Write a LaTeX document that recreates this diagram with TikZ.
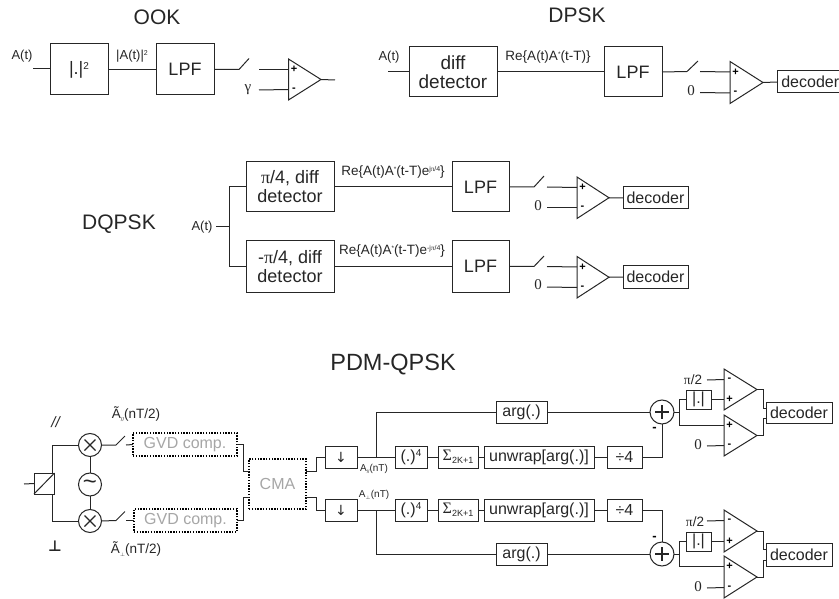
\documentclass[tikz,border=0pt]{standalone}
\usepackage{fontspec}
\setmainfont{Liberation Sans}
\newfontfamily\sy{Liberation Serif}
\newfontfamily\djv{DejaVu Sans}
\usetikzlibrary{calc}
\newcommand{\bbox}[6]{%
  \pgfmathsetmacro\bw{#4-#2}\pgfmathsetmacro\bh{#5-#3}%
  \pgfmathsetmacro\bx{(#4+#2)/2}\pgfmathsetmacro\by{(#5+#3)/2}%
  \node[blockbox,minimum width=\bw pt,minimum height=\bh pt] (#1) at (\bx,\by) {#6};}
\newcommand{\dbox}[6]{%
  \pgfmathsetmacro\bw{#4-#2}\pgfmathsetmacro\bh{#5-#3}%
  \pgfmathsetmacro\bx{(#4+#2)/2}\pgfmathsetmacro\by{(#5+#3)/2}%
  \node[dotbox,minimum width=\bw pt,minimum height=\bh pt] (#1) at (\bx,\by) {#6};}
% name, left x, top y, bottom y, tip x, upper sign, lower sign
\newcommand{\amp}[7]{%
  \pgfmathsetmacro\my{(#3+#4)/2}%
  \coordinate (#1-a) at (#2,#3);\coordinate (#1-b) at (#2,#4);\coordinate (#1-o) at (#5,\my);
  \draw[wire] (#1-a) -- (#1-o) -- (#1-b) -- cycle;
  \pgfmathsetmacro\uy{#3+10.5}\pgfmathsetmacro\ly{#4-10.5}%
  \coordinate (#1-u) at (#2,\uy);\coordinate (#1-l) at (#2,\ly);
  \node[sign] (#1-us) at ($(#1-u)+(5.5,0)$) {#6};
  \node[sign] (#1-ls) at ($(#1-l)+(5.5,0)$) {#7};}
\newcommand{\bigA}{\fontsize{19}{23}\selectfont}
\newcommand{\bigB}{\fontsize{18}{23}\selectfont}
\tikzset{
  wire/.style={line width=1pt,draw=black!85,line join=miter},
  blockbox/.style={draw=black!85,line width=1pt,inner sep=0pt,outer sep=0pt,font=\fontsize{16}{19}\selectfont,align=center,text=black!85},
  dotbox/.style={draw=black,line width=1.4pt,dash pattern=on 1.4pt off 1.4pt,inner sep=0pt,outer sep=0pt,font=\fontsize{16}{19}\selectfont,text=black!35},
  title/.style={font=\fontsize{21}{24}\selectfont,inner sep=0pt,text=black!85},
  lab/.style={font=\fontsize{13.5}{15}\selectfont,inner sep=0pt,text=black!85},
  num/.style={font=\sy\fontsize{15}{18}\selectfont,inner sep=0pt,text=black!85},
  sign/.style={font=\bfseries\fontsize{11}{11}\selectfont,inner sep=0pt,text=black},
  roundel/.style={circle,draw=black!85,line width=1pt,inner sep=0pt,outer sep=0pt,minimum size=23pt},
  mark stroke/.style={line width=1.2pt,draw=black!85},
}
\begin{document}
\begin{tikzpicture}[x=1pt,y=-1pt]
\useasboundingbox (0,0) rectangle (839,599);
%% OOK
\node[title] (tOOK) at (157,17) {OOK};
\node[lab,font=\fontsize{13}{15}\selectfont] (lA1) at (22,56) {A(t)};
\coordinate (in1) at (33,69);
\bbox{sq}{50}{44}{108}{95}{\fontsize{18}{20}\selectfont|.|\raisebox{5pt}{\fontsize{10}{10}\selectfont 2}}
\bbox{lpf1}{156}{44}{214}{95}{\fontsize{18}{20}\selectfont LPF}
\node[lab,font=\fontsize{13}{15}\selectfont] (lq) at (132,56) {|A(t)|\raisebox{4pt}{\fontsize{7}{7}\selectfont 2}};
\draw[wire] (in1) -- (sq.west |- in1);
\draw[wire] (sq.east) -- (lpf1.west);
\coordinate (s1a) at (239,69.5);\coordinate (s1b) at (249,58.5);
\draw[wire] (lpf1.east) -- (s1a) -- (s1b);
\amp{op1}{288.5}{59}{100}{321}{+}{-}
\coordinate (s1c) at (259,69.5);\coordinate (gm1) at (259,90);
\node[num] (lg) at (248,90) {γ};
\draw[wire] (s1c) -- (op1-u);
\draw[wire] (gm1) -- (op1-l);
\coordinate (o1) at (335,80);
\draw[wire] (op1-o) -- (o1);
%% DPSK
\node[title] (tDPSK) at (577,15) {DPSK};
\node[lab,font=\fontsize{13}{15}\selectfont] (lA2) at (389,57) {A(t)};
\coordinate (in2) at (388,71.5);
\bbox{dd}{409}{47}{497}{97}{\bigA diff\\\bigA detector}
\bbox{lpf2}{604}{47}{662}{97}{\fontsize{18}{20}\selectfont LPF}
\node[lab] (lRe) at (548,57) {Re\{A(t)A\raisebox{3.5pt}{\fontsize{6.5}{6}\selectfont *}(t-T)\}};
\draw[wire] (in2) -- (dd.west |- in2);
\draw[wire] (dd.east) -- (lpf2.west);
\coordinate (s2a) at (687,71.5);\coordinate (s2b) at (698,61);
\draw[wire] (lpf2.east) -- (s2a) -- (s2b);
\amp{op2}{730}{61.5}{103.5}{763}{+}{-}
\coordinate (s2c) at (700,71.5);\coordinate (z2) at (700,92.5);
\node[num] (l02) at (691,91) {0};
\draw[wire] (s2c) -- (op2-u);
\draw[wire] (z2) -- (op2-l);
\bbox{dec2}{778}{71}{838.5}{93}{\hspace*{4pt}decoder}
\draw[wire] (op2-o) -- (dec2.west);
%% DQPSK
\node[title] (tDQ) at (119,224) {DQPSK};
\node[lab,font=\fontsize{13}{15}\selectfont] (lA3) at (202,227) {A(t)};
\coordinate (in3a) at (216,227);\coordinate (in3b) at (229,227);
\bbox{d1}{246}{162}{334}{212}{\bigB {\sy π}/4, diff\\\bigB detector}
\bbox{d2}{246}{241}{334}{292}{\bigB -{\sy π}/4, diff\\\bigB detector}
\bbox{lpf3}{452}{162}{509}{212}{\fontsize{18}{20}\selectfont LPF}
\bbox{lpf4}{452}{241}{509}{292}{\fontsize{18}{20}\selectfont LPF}
\draw[wire] (in3a) -- (in3b);
\draw[wire] (d1.west) -- (in3b |- d1.west) -- (in3b |- d2.west) -- (d2.west);
\draw[wire] (d1.east) -- (lpf3.west);
\draw[wire] (d2.east) -- (lpf4.west);
\node[lab] (lRe1) at (393,172) {Re\{A(t)A\raisebox{3.5pt}{\fontsize{6.5}{6}\selectfont *}(t-T)e\raisebox{3.5pt}{\fontsize{7}{7}\selectfont j{\sy π}/4}\}};
\node[lab] (lRe2) at (392,251) {Re\{A(t)A\raisebox{3.5pt}{\fontsize{6.5}{6}\selectfont *}(t-T)e\raisebox{3.5pt}{\fontsize{7}{7}\selectfont -j{\sy π}/4}\}};
\coordinate (s3a) at (534,187);\coordinate (s3b) at (544,176);
\draw[wire] (lpf3.east) -- (s3a) -- (s3b);
\amp{op3}{577}{177}{218.5}{609}{+}{-}
\coordinate (s3c) at (547,187);\coordinate (z3) at (547,208);
\node[num] (l03) at (538,206) {0};
\draw[wire] (s3c) -- (op3-u);
\draw[wire] (z3) -- (op3-l);
\bbox{dec3}{623}{187}{688}{209}{decoder}
\draw[wire] (op3-o) -- (dec3.west);
\coordinate (s4a) at (534,266.5);\coordinate (s4b) at (544,256);
\draw[wire] (lpf4.east) -- (s4a) -- (s4b);
\amp{op4}{577}{256.5}{298}{609}{+}{-}
\coordinate (s4c) at (547,266.5);\coordinate (z4) at (547,287);
\node[num] (l04) at (538,285) {0};
\draw[wire] (s4c) -- (op4-u);
\draw[wire] (z4) -- (op4-l);
\bbox{dec4}{623}{266}{688}{288}{decoder}
\draw[wire] (op4-o) -- (dec4.west);
%% PDM-QPSK
\node[title,font=\fontsize{23.5}{26}\selectfont] (tPDM) at (393,365) {PDM-QPSK};
\node[lab,font=\itshape\fontsize{15}{15}\selectfont] (lpar) at (55.5,422) {//};
\node[lab,font=\djv\bfseries\fontsize{15}{15}\selectfont] (lperp) at (55,546) {⊥};
\node[lab] (lAp) at (136,414) {Ã\raisebox{-2.5pt}{\fontsize{5.5}{5}\selectfont //}(nT/2)};
\node[lab] (lAs) at (136,549) {Ã\raisebox{-2.5pt}{\fontsize{5.5}{5}\selectfont $\perp$}(nT/2)};
\bbox{pbs}{34}{473}{54.5}{494}{}
\draw[wire] (pbs.south west) -- (pbs.north east);
\coordinate (in4) at (24,484);
\draw[wire] (in4) -- (pbs.west);
\node[roundel] (m1) at (90,445) {};
\node[roundel] (m2) at (90,521) {};
\node[roundel] (lo) at (90,484.5) {};
\draw[mark stroke] ($(m1)+(-5.5,-5.5)$) -- ($(m1)+(5.5,5.5)$) ($(m1)+(5.5,-5.5)$) -- ($(m1)+(-5.5,5.5)$);
\draw[mark stroke] ($(m2)+(-5.5,-5.5)$) -- ($(m2)+(5.5,5.5)$) ($(m2)+(5.5,-5.5)$) -- ($(m2)+(-5.5,5.5)$);
\node[inner sep=0pt,font=\fontsize{24}{24}\selectfont,text=black!85] (lot) at (90,484.5) {\textasciitilde};
\coordinate (pt) at (52.5,473);\coordinate (pb) at (52.5,494);
\draw[wire] (pt) |- (m1.west);
\draw[wire] (pb) |- (m2.west);
\draw[wire] (m1.south) -- (lo.north);
\draw[wire] (lo.south) -- (m2.north);
\dbox{g1}{133}{433}{237}{456}{GVD comp.}
\dbox{g2}{134}{509}{237}{532}{GVD comp.}
\coordinate (s5a) at (116,445);\coordinate (s5b) at (125,436);
\draw[wire] (m1.east) -- (s5a) -- (s5b);
\coordinate (s5c) at (126,445);
\draw[wire] (s5c) -- (g1.west);
\coordinate (s6a) at (116,520.5);\coordinate (s6b) at (125,511.5);
\draw[wire] (m2.east) -- (s6a) -- (s6b);
\coordinate (s6c) at (126,520.5);
\draw[wire] (s6c) -- (g2.west);
\dbox{cma}{249}{459}{306}{509}{CMA}
\coordinate (c1) at (249,471);\coordinate (c2) at (249,497);
\coordinate (c3) at (306,471);\coordinate (c4) at (306,497);
\draw[wire] (g1.east) -- (243,444.5) -- (243,471) -- (c1);
\draw[wire] (g2.east) -- (243,520.5) -- (243,497) -- (c2);
\bbox{dn1}{325}{446}{357}{468}{\djv\fontsize{14}{14}\selectfont ↓}
\bbox{dn2}{325}{499}{357}{521}{\djv\fontsize{14}{14}\selectfont ↓}
\draw[wire] (c3) -- (316,471) -- (316,457) -- (dn1.west);
\draw[wire] (c4) -- (316,497) -- (316,510) -- (dn2.west);
\bbox{p1}{395}{446}{427}{468}{(.)\raisebox{5pt}{\fontsize{10}{10}\selectfont 4}}
\bbox{p2}{395}{499}{427}{521}{(.)\raisebox{5pt}{\fontsize{10}{10}\selectfont 4}}
\bbox{sg1}{438}{446}{478}{468}{{\sy\fontsize{16}{16}\selectfont Σ}\raisebox{-3.5pt}{\fontsize{9}{9}\selectfont 2K+1}}
\bbox{sg2}{438}{499}{478}{521}{{\sy\fontsize{16}{16}\selectfont Σ}\raisebox{-3.5pt}{\fontsize{9}{9}\selectfont 2K+1}}
\bbox{uw1}{484}{446}{594}{468}{unwrap[arg(.)]}
\bbox{uw2}{484}{499}{594}{521}{unwrap[arg(.)]}
\bbox{dv1}{607}{446}{642}{468}{÷4}
\bbox{dv2}{607}{499}{642}{521}{÷4}
\bbox{ar1}{496}{401}{547}{423}{arg(.)}
\bbox{ar2}{496}{543}{547}{565}{arg(.)}
\node[roundel,minimum size=24pt] (ad1) at (662,412) {};
\node[roundel,minimum size=24pt] (ad2) at (662,554) {};
\draw[mark stroke] ($(ad1)+(0,-7)$) -- ($(ad1)+(0,7)$) ($(ad1)+(-7,0)$) -- ($(ad1)+(7,0)$);
\draw[mark stroke] ($(ad2)+(0,-7)$) -- ($(ad2)+(0,7)$) ($(ad2)+(-7,0)$) -- ($(ad2)+(7,0)$);
\draw[wire] (dn1.east) -- (p1.west);
\draw[wire] (dn2.east) -- (p2.west);
\draw[wire] (p1.east) -- (sg1.west);
\draw[wire] (p2.east) -- (sg2.west);
\draw[wire] (sg1.east) -- (uw1.west);
\draw[wire] (sg2.east) -- (uw2.west);
\draw[wire] (uw1.east) -- (dv1.west);
\draw[wire] (uw2.east) -- (dv2.west);
\coordinate (b1) at (376,457);\coordinate (b2) at (376,510);
\draw[wire] (b1) |- (ar1.west);
\draw[wire] (b2) |- (ar2.west);
\draw[wire] (ar1.east) -- (ad1.west);
\draw[wire] (ar2.east) -- (ad2.west);
\draw[wire] (dv1.east) -| (ad1.south);
\draw[wire] (dv2.east) -| (ad2.north);
\node[sign,font=\bfseries\fontsize{13}{13}\selectfont] (sm1) at (654.5,429.5) {-};
\node[sign,font=\bfseries\fontsize{13}{13}\selectfont] (sm2) at (654.5,538) {-};
\node[lab,font=\fontsize{10}{12}\selectfont] (lAa) at (374,468.5) {A\raisebox{-2pt}{\fontsize{5}{5}\selectfont //}(nT)};
\node[lab,font=\fontsize{10}{12}\selectfont] (lAb) at (374,495) {A\raisebox{-2pt}{\fontsize{5}{5}\selectfont $\perp$}(nT)};
% upper pair
\amp{op5}{724}{369}{410}{757}{-}{+}
\amp{op6}{724}{415}{456}{757}{+}{-}
\bbox{ab1}{686}{390}{711}{409}{|.|}
\coordinate (j1) at (679,412);
\draw[wire] (ad1.east) -- (j1);
\draw[wire] (j1) |- (ab1.west);
\draw[wire] (ab1.east) -- (op5-l);
\draw[wire] (j1) |- (op6-u);
\node[lab] (lpi1) at (693,380) {{\sy π}/2};
\coordinate (c5) at (707,380);\coordinate (z6) at (707,446);
\draw[wire] (c5) -- (op5-u);
\draw[wire] (z6) -- (op6-l);
\node[num] (l06) at (698,445) {0};
\bbox{dec5}{766}{402}{832}{423}{decoder}
\coordinate (i5) at (766,408);\coordinate (i6) at (766,418);
\draw[wire] (op5-o) -- (763,389.5) -- (763,408) -- (i5);
\draw[wire] (op6-o) -- (763,435.5) -- (763,418) -- (i6);
% lower pair
\amp{op7}{724}{510}{552}{757}{-}{+}
\amp{op8}{724}{556}{598}{757}{+}{-}
\bbox{ab2}{686}{532}{711}{551}{|.|}
\coordinate (j2) at (679,554);
\draw[wire] (ad2.east) -- (j2);
\draw[wire] (j2) |- (ab2.west);
\draw[wire] (ab2.east) -- (op7-l);
\draw[wire] (j2) |- (op8-u);
\node[lab] (lpi2) at (695,522) {{\sy π}/2};
\coordinate (c7) at (707,521);\coordinate (z8) at (707,588);
\draw[wire] (c7) -- (op7-u);
\draw[wire] (z8) -- (op8-l);
\node[num] (l08) at (698,587) {0};
\bbox{dec7}{766}{543}{832}{566}{decoder}
\coordinate (i7) at (766,549);\coordinate (i8) at (766,560);
\draw[wire] (op7-o) -- (763,531) -- (763,549) -- (i7);
\draw[wire] (op8-o) -- (763,577) -- (763,560) -- (i8);
\end{tikzpicture}
\end{document}
